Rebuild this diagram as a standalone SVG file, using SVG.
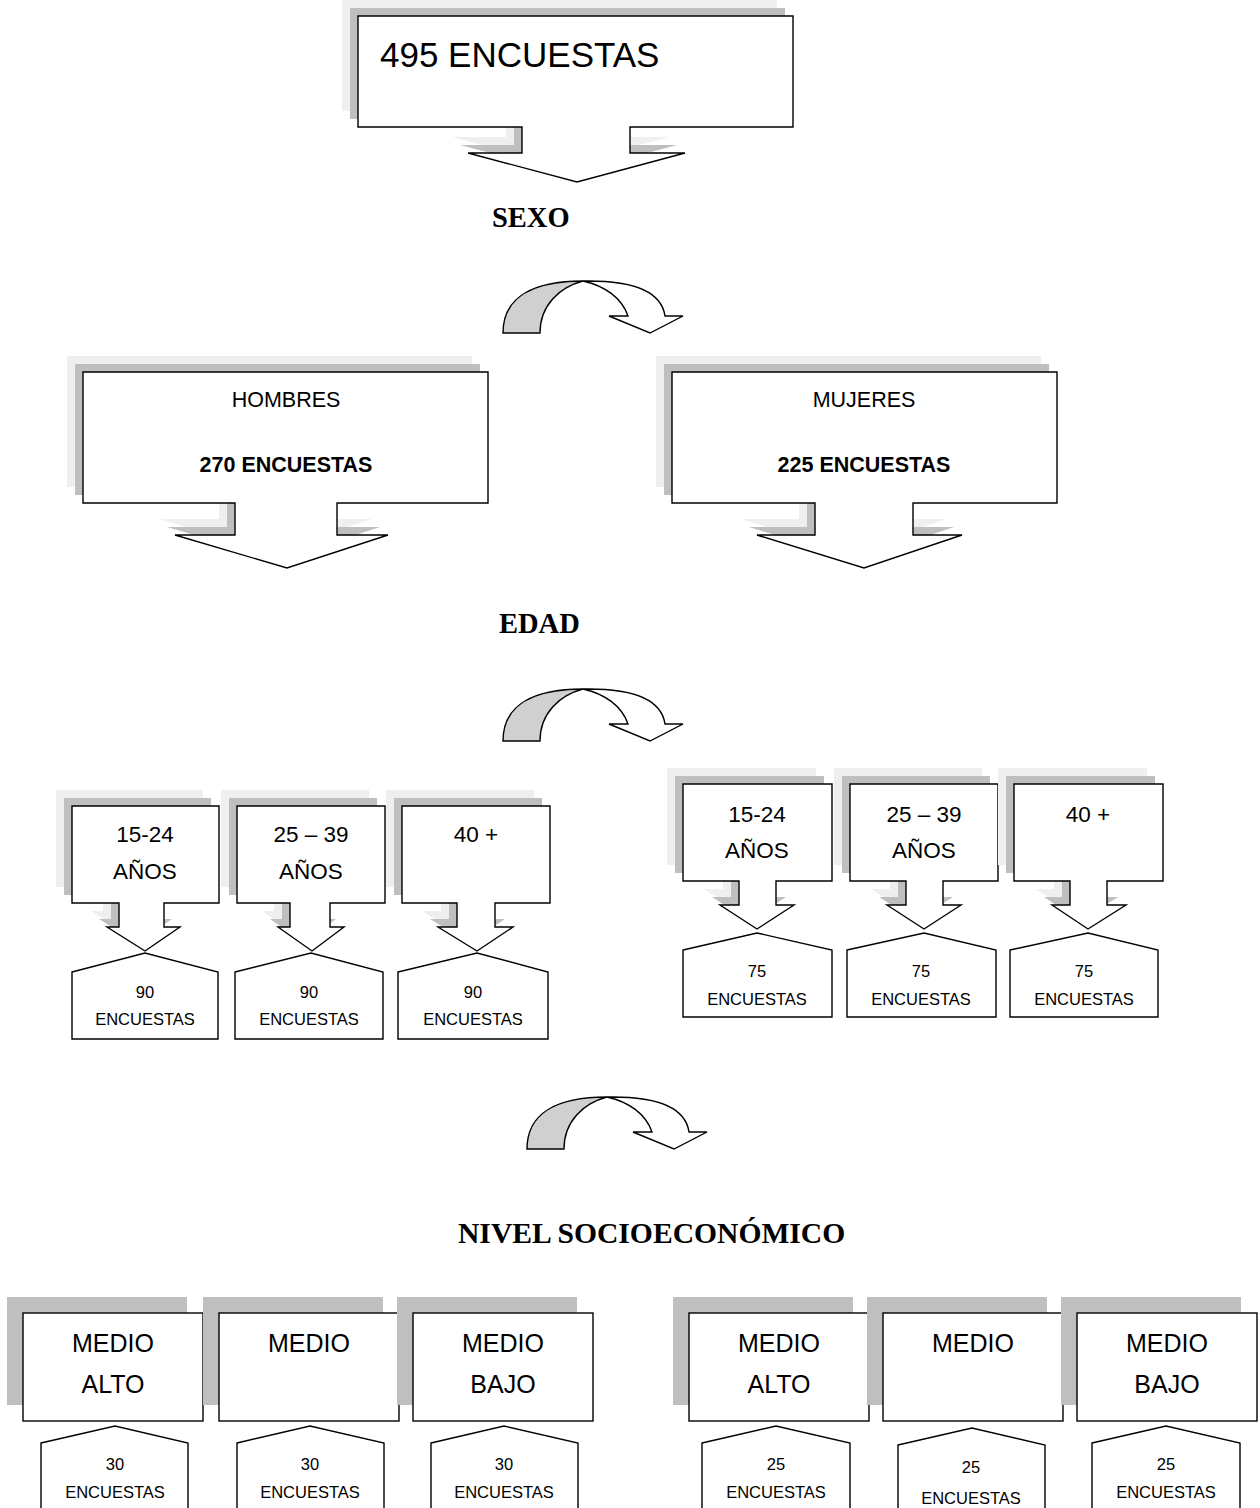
<svg xmlns="http://www.w3.org/2000/svg" xmlns:xlink="http://www.w3.org/1999/xlink" width="1260" height="1508" viewBox="0 0 1260 1508">
<style>
  .main{fill:#ffffff;stroke:#000000;stroke-width:1.4;stroke-linejoin:miter}
  .sh1{fill:#efefef;stroke:none}
  .sh2{fill:#bfbfbf;stroke:none}
  .sh{fill:#bfbfbf;stroke:none}
  .cg{fill:#d0d0d0;stroke:#000000;stroke-width:1.4}
  .cw{fill:#ffffff;stroke:#000000;stroke-width:1.4}
  text{font-family:"Liberation Sans",Arial,sans-serif;fill:#000000}
  .big{font-size:35px}
  .mid{font-size:21.5px;text-anchor:middle}
  .midb{font-size:21.5px;text-anchor:middle;font-weight:bold}
  .age{font-size:22.5px;text-anchor:middle}
  .sm{font-size:16.5px;text-anchor:middle}
  .nv{font-size:25px;text-anchor:middle}
  .lbl{font-family:"Liberation Serif","Times New Roman",serif;font-weight:bold;font-size:28.5px}
  .lbl2{font-family:"Liberation Serif","Times New Roman",serif;font-weight:bold;font-size:29.6px}
</style>
<defs>
  <path id="s-top" d="M358,16 H793 V127 H630 V153 H685 L577,182 L468,153 H522 V127 H358 Z"/>
  <path id="s-hom" d="M83,372 H488 V503 H337 V535 H388 L287,568 L175,535 H235 V503 H83 Z"/>
  <path id="s-muj" d="M672,372 H1057 V503 H913 V535 H962 L864,568 L757,535 H815 V503 H672 Z"/>
  <path id="s-l1" d="M72,806 H219 V903 H164 V927 H180 L145,951 L107,927 H119 V903 H72 Z"/>
  <path id="s-l2" d="M237,806 H385 V903 H330 V927 H344 L312,951 L278,927 H290 V903 H237 Z"/>
  <path id="s-l3" d="M402,806 H550 V903 H495 V927 H513 L477,951 L438,927 H457 V903 H402 Z"/>
  <path id="s-r1" d="M683,784 H832 V881 H776 V905 H794 L757,929 L720,905 H739 V881 H683 Z"/>
  <path id="s-r2" d="M850,784 H998 V881 H943 V905 H961 L924,929 L887,905 H906 V881 H850 Z"/>
  <path id="s-r3" d="M1014,784 H1163 V881 H1107 V905 H1126 L1088,929 L1052,905 H1070 V881 H1014 Z"/>
  <g id="curve">
    <path class="cg" d="M503,333 C503,297 533,281 583,281 C560,287 540,305 540,333 Z"/>
    <path class="cw" d="M583,281 C640,280 662,295 665,316 L683,316 L650,333 L609,316 L628,316 C622,298 605,286 583,281 Z"/>
  </g>
</defs>

<g id="connectors">
  <use xlink:href="#curve" href="#curve"/>
  <use xlink:href="#curve" href="#curve" transform="translate(0,408)"/>
  <use xlink:href="#curve" href="#curve" transform="translate(24,816)"/>
</g>

<g id="labels">
  <text class="lbl" x="492" y="227">SEXO</text>
  <text class="lbl" x="499" y="633">EDAD</text>
  <text class="lbl2" x="458" y="1243">NIVEL SOCIOECONÓMICO</text>
</g>

<g id="node-total">
  <use href="#s-top" class="sh1" transform="translate(-16,-16)"/>
  <use href="#s-top" class="sh2" transform="translate(-8,-8)"/>
  <use href="#s-top" class="main"/>
  <text class="big" x="380" y="67">495 ENCUESTAS</text>
</g>

<g id="node-hombres">
  <use href="#s-hom" class="sh1" transform="translate(-16,-16)"/>
  <use href="#s-hom" class="sh2" transform="translate(-8,-8)"/>
  <use href="#s-hom" class="main"/>
  <text class="mid" x="286" y="407">HOMBRES</text>
  <text class="midb" x="286" y="472">270 ENCUESTAS</text>
</g>

<g id="node-mujeres">
  <use href="#s-muj" class="sh1" transform="translate(-16,-16)"/>
  <use href="#s-muj" class="sh2" transform="translate(-8,-8)"/>
  <use href="#s-muj" class="main"/>
  <text class="mid" x="864" y="407">MUJERES</text>
  <text class="midb" x="864" y="472">225 ENCUESTAS</text>
</g>

<g id="node-h-15-24">
  <use href="#s-l1" class="sh1" transform="translate(-16,-16)"/>
  <use href="#s-l1" class="sh2" transform="translate(-8,-8)"/>
  <use href="#s-l1" class="main"/>
  <text class="age" x="145" y="842">15-24</text>
  <text class="age" x="145" y="879">AÑOS</text>
</g>
<g id="node-h-25-39">
  <use href="#s-l2" class="sh1" transform="translate(-16,-16)"/>
  <use href="#s-l2" class="sh2" transform="translate(-8,-8)"/>
  <use href="#s-l2" class="main"/>
  <text class="age" x="311" y="842">25 – 39</text>
  <text class="age" x="311" y="879">AÑOS</text>
</g>
<g id="node-h-40">
  <use href="#s-l3" class="sh1" transform="translate(-16,-16)"/>
  <use href="#s-l3" class="sh2" transform="translate(-8,-8)"/>
  <use href="#s-l3" class="main"/>
  <text class="age" x="476" y="842">40 +</text>
</g>

<g id="node-m-15-24">
  <use href="#s-r1" class="sh1" transform="translate(-16,-16)"/>
  <use href="#s-r1" class="sh2" transform="translate(-8,-8)"/>
  <use href="#s-r1" class="main"/>
  <text class="age" x="757" y="822">15-24</text>
  <text class="age" x="757" y="858">AÑOS</text>
</g>
<g id="node-m-25-39">
  <use href="#s-r2" class="sh1" transform="translate(-16,-16)"/>
  <use href="#s-r2" class="sh2" transform="translate(-8,-8)"/>
  <use href="#s-r2" class="main"/>
  <text class="age" x="924" y="822">25 – 39</text>
  <text class="age" x="924" y="858">AÑOS</text>
</g>
<g id="node-m-40">
  <use href="#s-r3" class="sh1" transform="translate(-16,-16)"/>
  <use href="#s-r3" class="sh2" transform="translate(-8,-8)"/>
  <use href="#s-r3" class="main"/>
  <text class="age" x="1088" y="822">40 +</text>
</g>

<g id="node-h-90-a">
  <path class="main" d="M72,972 L145,953 L218,972 V1039 H72 Z"/>
  <text class="sm" x="145" y="998">90</text>
  <text class="sm" x="145" y="1025">ENCUESTAS</text>
</g>
<g id="node-h-90-b">
  <path class="main" d="M235,972 L311,953 L383,972 V1039 H235 Z"/>
  <text class="sm" x="309" y="998">90</text>
  <text class="sm" x="309" y="1025">ENCUESTAS</text>
</g>
<g id="node-h-90-c">
  <path class="main" d="M398,972 L477,953 L548,972 V1039 H398 Z"/>
  <text class="sm" x="473" y="998">90</text>
  <text class="sm" x="473" y="1025">ENCUESTAS</text>
</g>

<g id="node-m-75-a">
  <path class="main" d="M683,950 L757,933 L832,950 V1017 H683 Z"/>
  <text class="sm" x="757" y="977">75</text>
  <text class="sm" x="757" y="1005">ENCUESTAS</text>
</g>
<g id="node-m-75-b">
  <path class="main" d="M847,950 L924,933 L996,950 V1017 H847 Z"/>
  <text class="sm" x="921" y="977">75</text>
  <text class="sm" x="921" y="1005">ENCUESTAS</text>
</g>
<g id="node-m-75-c">
  <path class="main" d="M1010,950 L1088,933 L1158,950 V1017 H1010 Z"/>
  <text class="sm" x="1084" y="977">75</text>
  <text class="sm" x="1084" y="1005">ENCUESTAS</text>
</g>

<g id="node-h-medio-alto">
  <rect class="sh" x="7" y="1297" width="180" height="108"/>
  <rect class="main" x="23" y="1313" width="180" height="108"/>
  <text class="nv" x="113" y="1352">MEDIO</text>
  <text class="nv" x="113" y="1393">ALTO</text>
</g>
<g id="node-h-medio">
  <rect class="sh" x="203" y="1297" width="180" height="108"/>
  <rect class="main" x="219" y="1313" width="180" height="108"/>
  <text class="nv" x="309" y="1352">MEDIO</text>
</g>
<g id="node-h-medio-bajo">
  <rect class="sh" x="397" y="1297" width="180" height="108"/>
  <rect class="main" x="413" y="1313" width="180" height="108"/>
  <text class="nv" x="503" y="1352">MEDIO</text>
  <text class="nv" x="503" y="1393">BAJO</text>
</g>
<g id="node-m-medio-alto">
  <rect class="sh" x="673" y="1297" width="180" height="108"/>
  <rect class="main" x="689" y="1313" width="180" height="108"/>
  <text class="nv" x="779" y="1352">MEDIO</text>
  <text class="nv" x="779" y="1393">ALTO</text>
</g>
<g id="node-m-medio">
  <rect class="sh" x="867" y="1297" width="180" height="108"/>
  <rect class="main" x="883" y="1313" width="180" height="108"/>
  <text class="nv" x="973" y="1352">MEDIO</text>
</g>
<g id="node-m-medio-bajo">
  <rect class="sh" x="1061" y="1297" width="180" height="108"/>
  <rect class="main" x="1077" y="1313" width="180" height="108"/>
  <text class="nv" x="1167" y="1352">MEDIO</text>
  <text class="nv" x="1167" y="1393">BAJO</text>
</g>

<g id="node-h-30-a">
  <path class="main" d="M41,1443 L115,1426 L188,1443 V1520 H41 Z"/>
  <text class="sm" x="115" y="1470">30</text>
  <text class="sm" x="115" y="1498">ENCUESTAS</text>
</g>
<g id="node-h-30-b">
  <path class="main" d="M237,1443 L310,1426 L384,1443 V1520 H237 Z"/>
  <text class="sm" x="310" y="1470">30</text>
  <text class="sm" x="310" y="1498">ENCUESTAS</text>
</g>
<g id="node-h-30-c">
  <path class="main" d="M431,1443 L504,1426 L578,1443 V1520 H431 Z"/>
  <text class="sm" x="504" y="1470">30</text>
  <text class="sm" x="504" y="1498">ENCUESTAS</text>
</g>
<g id="node-m-25-a">
  <path class="main" d="M702,1443 L776,1426 L850,1443 V1520 H702 Z"/>
  <text class="sm" x="776" y="1470">25</text>
  <text class="sm" x="776" y="1498">ENCUESTAS</text>
</g>
<g id="node-m-25-b">
  <path class="main" d="M898,1445 L972,1428 L1045,1445 V1520 H898 Z"/>
  <text class="sm" x="971" y="1473">25</text>
  <text class="sm" x="971" y="1504">ENCUESTAS</text>
</g>
<g id="node-m-25-c">
  <path class="main" d="M1092,1443 L1166,1426 L1240,1443 V1520 H1092 Z"/>
  <text class="sm" x="1166" y="1470">25</text>
  <text class="sm" x="1166" y="1498">ENCUESTAS</text>
</g>
</svg>
